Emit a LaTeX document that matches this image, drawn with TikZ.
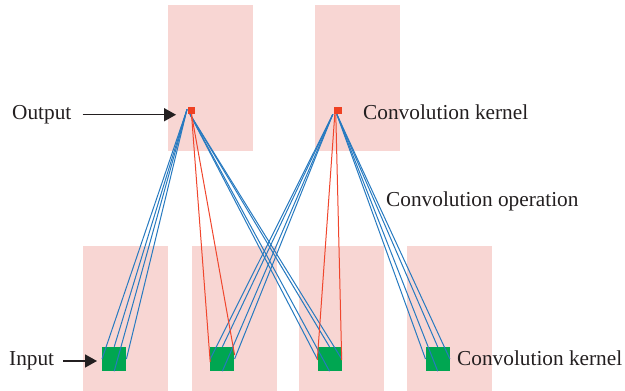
\documentclass[tikz,border=0pt]{standalone}
\usepackage{fontspec}
\setmainfont{Liberation Serif}
\usetikzlibrary{arrows.meta,calc}
\definecolor{pinkbg}{RGB}{248,214,211}
\definecolor{kgreen}{RGB}{0,166,81}
\definecolor{kred}{RGB}{239,65,35}
\definecolor{lblue}{RGB}{39,122,192}
\definecolor{lred}{RGB}{240,70,45}
\definecolor{arrblack}{RGB}{35,31,32}
\begin{document}
\begin{tikzpicture}[x=1pt,y=-1pt,
  bgbox/.style={fill=pinkbg,draw=none,inner sep=0pt,minimum width=85pt,anchor=north west},
  topbox/.style={bgbox,minimum height=145.7pt},
  botbox/.style={bgbox,minimum height=145pt},
  outsq/.style={fill=kred,draw=none,inner sep=0pt,minimum size=7.5pt},
  insq/.style={fill=kgreen,draw=none,inner sep=0pt,minimum size=24pt},
  bl/.style={draw=lblue,line width=1pt},
  rl/.style={draw=lred,line width=1pt},
  lbl/.style={font=\fontsize{21.3}{24}\selectfont,inner sep=0pt,anchor=base west,text=arrblack},
  arr/.style={draw=arrblack,line width=1.5pt,-{Triangle[length=12pt,width=13pt]}}]
\useasboundingbox (0,0) rectangle (625,391);
% background boxes
\node[topbox] (b1) at (167.3,5) {};
\node[topbox] (b2) at (314.7,5) {};
\node[botbox] (c1) at (83.1,246) {};
\node[botbox] (c2) at (191.3,246) {};
\node[botbox] (c3) at (298.7,246) {};
\node[botbox] (c4) at (407,246) {};
% output points
\node[outsq] (o1) at (191.5,110.3) {};
\node[outsq] (o2) at (337.8,110.3) {};
% input squares
\node[insq] (in1) at (114.2,359) {};
\node[insq] (in2) at (222.4,359) {};
\node[insq] (in3) at (329.5,359) {};
\node[insq] (in4) at (437.7,359) {};
% connectors
\foreach \a in {north,south,east,west}{
  \draw[bl] ([xshift=-0.5pt,yshift=1pt]o1.west) -- (in1.\a);
  \draw[bl] ([xshift=-1.5pt]o1.south) -- (in3.\a);
  \draw[bl] ([xshift=-1pt]o2.south west) -- (in2.\a);
  \draw[bl] ([xshift=-1pt]o2.south) -- (in4.\a);
}
\draw[rl] (o1.south) -- ([yshift=-3pt]in2.west);
\draw[rl] (o1.south) -- ([yshift=4pt]in2.east);
\draw[rl] ([xshift=-3pt]o2.south) -- ([yshift=-1pt]in3.west);
\draw[rl] ([xshift=-2pt]o2.south) -- ([yshift=-1pt]in3.east);
% labels
\node[lbl] (tOut) at (12,119.5) {Output};
\node[lbl] (tKt) at (363,119.5) {Convolution kernel};
\node[lbl] (tOp) at (386,206.5) {Convolution operation};
\node[lbl] (tIn) at (9,365.7) {Input};
\node[lbl] (tKb) at (457,365.7) {Convolution kernel};
% arrows
\draw[arr,shorten <=11pt,shorten >=11.5pt] (tOut.east) -- (tOut.east -| o1.west);
\draw[arr,shorten <=9pt,shorten >=5pt] (tIn.east) -- (tIn.east -| in1.west);
\end{tikzpicture}
\end{document}
